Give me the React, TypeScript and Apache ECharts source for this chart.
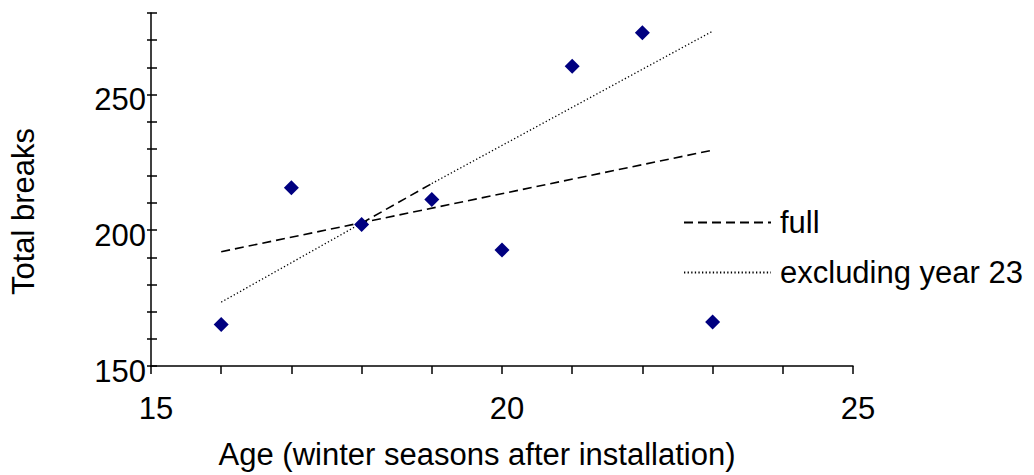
import React, { useEffect, useRef } from "react";
import * as echarts from "echarts";

const ages = [16, 17, 18, 19, 20, 21, 22, 23];
const totalBreaks = [165.3, 215.6, 202.1, 211.3, 192.7, 260.4, 272.7, 166.2];

const fullFit = [
  [16, 192.1],
  [23, 229.5],
];
const exclFitA = [
  [16, 173.5],
  [18, 202.6],
];
const exclFitB = [
  [19, 217.2],
  [23, 273.3],
];
const exclFitDashed = [
  [18, 202.6],
  [19, 217.2],
];

const xLabelValues = [15, 20, 25];
const yLabelValues = [150, 200, 250];
const legendNames = ["full", "excluding year 23"];

const FONT = "'Liberation Sans', Arial, Helvetica, sans-serif";
const FS = 31;

export default function App() {
  const ref = useRef<HTMLDivElement>(null);

  useEffect(() => {
    if (!ref.current) return;
    const chart = echarts.init(ref.current, undefined, { renderer: "svg" });
    const dashed = [9, 5];
    const dotted = [1.3, 2.3];
    chart.setOption({
      animation: false,
      backgroundColor: "#ffffff",
      textStyle: { fontFamily: FONT },
      grid: { left: 150, right: 181, top: 13, bottom: 108, containLabel: false },
      legend: {
        data: legendNames,
        orient: "vertical",
        left: 683,
        top: 207,
        padding: 0,
        itemWidth: 87,
        itemHeight: 20,
        itemGap: 19,
        itemStyle: { opacity: 0 },
        textStyle: {
          fontFamily: FONT,
          fontSize: FS,
          color: "#000",
          padding: [10, 0, 0, 4],
        },
      },
      xAxis: {
        type: "value",
        min: 15,
        max: 25,
        interval: 1,
        name: "Age (winter seasons after installation)",
        nameLocation: "middle",
        nameGap: 73,
        nameTextStyle: {
          fontFamily: FONT,
          fontSize: FS,
          color: "#000",
          padding: [0, 50, 0, 0],
        },
        axisLine: { show: true, onZero: false, lineStyle: { color: "#000", width: 1.5 } },
        axisTick: { show: true, inside: false, length: 8, lineStyle: { color: "#000", width: 1.5 } },
        axisLabel: {
          fontFamily: FONT,
          fontSize: FS,
          color: "#000",
          margin: 27,
          padding: [0, 0, 0, 10],
          formatter: (v: number) => (xLabelValues.includes(v) ? String(v) : ""),
        },
        splitLine: { show: false },
      },
      yAxis: [
        {
          type: "value",
          min: 150,
          max: 280,
          interval: 10,
          name: "Total breaks",
          nameLocation: "middle",
          nameGap: 112,
          nameTextStyle: {
            fontFamily: FONT,
            fontSize: FS,
            color: "#000",
            padding: [0, 44, 0, 0],
          },
          axisLine: { show: true, onZero: false, lineStyle: { color: "#000", width: 1.5 } },
          axisTick: { show: true, inside: false, length: 4, lineStyle: { color: "#000", width: 1.5 } },
          axisLabel: {
            fontFamily: FONT,
            fontSize: FS,
            color: "#000",
            margin: 5,
            verticalAlign: "top",
            lineHeight: 10,
            formatter: (v: number) => (yLabelValues.includes(v) ? String(v) : ""),
          },
          splitLine: { show: false },
        },
        {
          type: "value",
          min: 150,
          max: 280,
          interval: 10,
          position: "left",
          axisLine: { show: false },
          axisTick: { show: true, inside: true, length: 6, lineStyle: { color: "#000", width: 1.5 } },
          axisLabel: { show: false },
          splitLine: { show: false },
        },
      ],
      series: [
        {
          name: "Total breaks",
          type: "scatter",
          symbol: "diamond",
          symbolSize: 15,
          itemStyle: { color: "#000080", opacity: 1 },
          data: ages.map((a, i) => [a, totalBreaks[i]]),
          z: 5,
        },
        {
          name: "full",
          type: "line",
          showSymbol: false,
          symbol: "none",
          itemStyle: { color: "#000" },
          lineStyle: { color: "#000", width: 1.6, type: dashed },
          data: fullFit,
        },
        {
          name: "excluding year 23",
          type: "line",
          showSymbol: false,
          symbol: "none",
          itemStyle: { color: "#000" },
          lineStyle: { color: "#000", width: 1.3, type: dotted },
          data: exclFitA,
        },
        {
          name: "excluding year 23",
          type: "line",
          showSymbol: false,
          symbol: "none",
          itemStyle: { color: "#000" },
          lineStyle: { color: "#000", width: 1.3, type: dotted },
          data: exclFitB,
        },
        {
          name: "excluding year 23 (dashed segment)",
          type: "line",
          showSymbol: false,
          symbol: "none",
          itemStyle: { color: "#000" },
          lineStyle: { color: "#000", width: 1.6, type: dashed },
          data: exclFitDashed,
        },
      ],
    });
    return () => chart.dispose();
  }, []);

  return (
    <div
      ref={ref}
      style={{ position: "absolute", left: 0, top: 0, width: 1034, height: 475 }}
    />
  );
}
